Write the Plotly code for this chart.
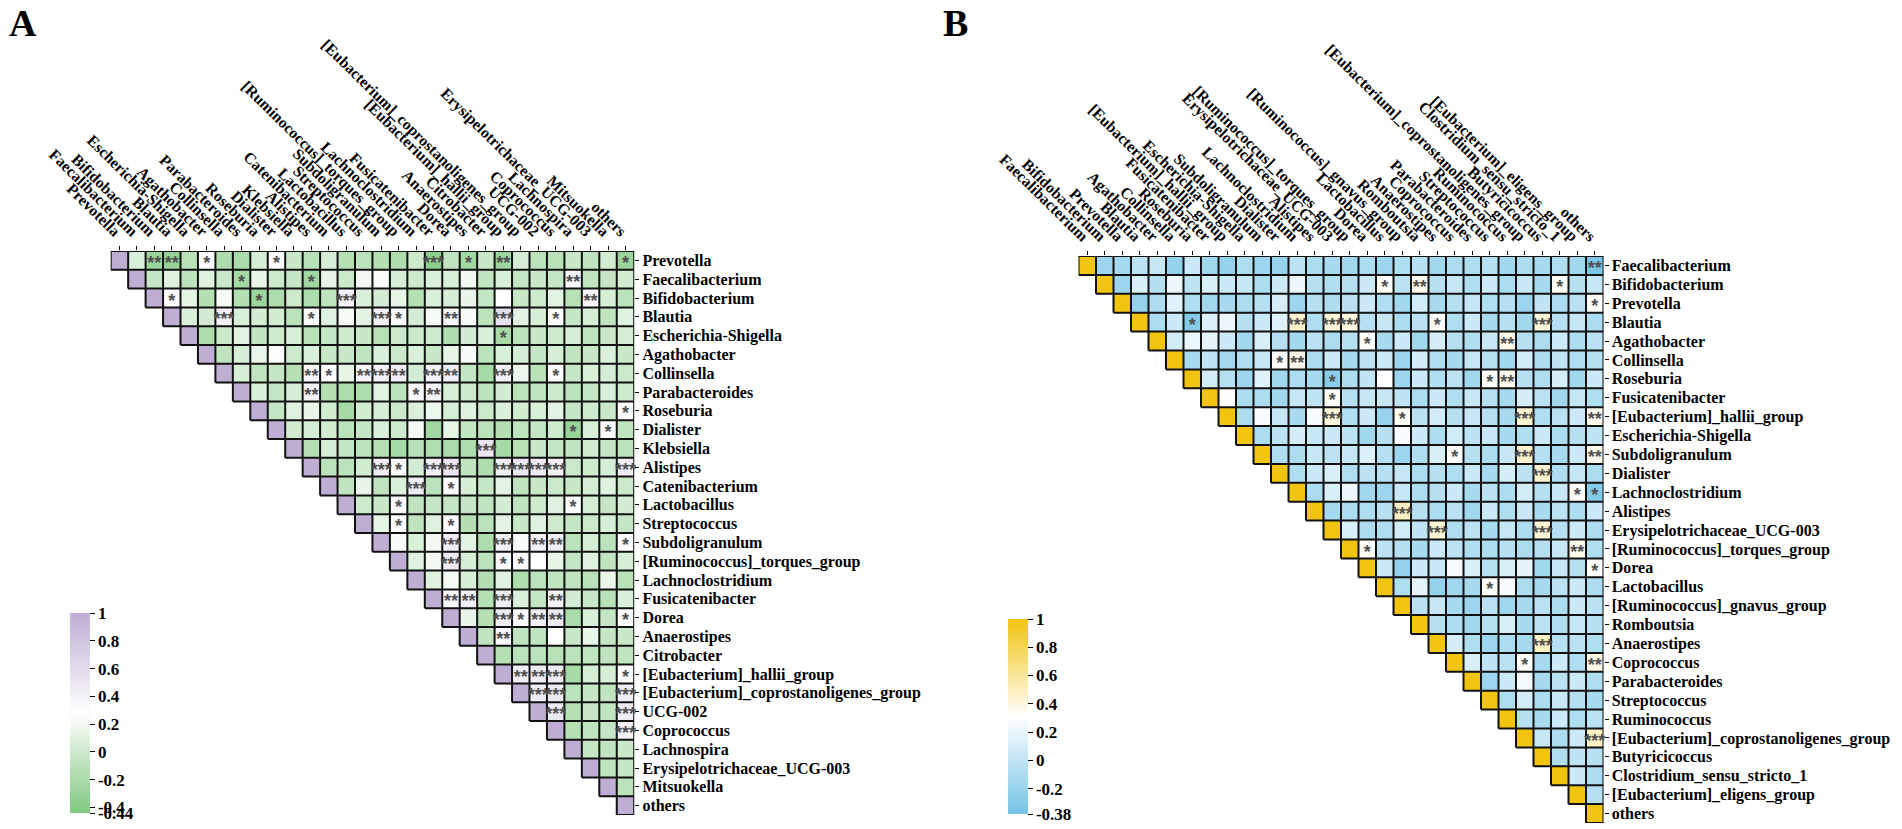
import plotly.graph_objects as go

W, H = 1902, 829
SERIF = "Liberation Serif"

labels_a = ["Prevotella","Faecalibacterium","Bifidobacterium","Blautia","Escherichia-Shigella","Agathobacter",
 "Collinsella","Parabacteroides","Roseburia","Dialister","Klebsiella","Alistipes","Catenibacterium","Lactobacillus",
 "Streptococcus","Subdoligranulum","[Ruminococcus]_torques_group","Lachnoclostridium","Fusicatenibacter","Dorea",
 "Anaerostipes","Citrobacter","[Eubacterium]_hallii_group","[Eubacterium]_coprostanoligenes_group","UCG-002",
 "Coprococcus","Lachnospira","Erysipelotrichaceae_UCG-003","Mitsuokella","others"]

labels_b = ["Faecalibacterium","Bifidobacterium","Prevotella","Blautia","Agathobacter","Collinsella","Roseburia",
 "Fusicatenibacter","[Eubacterium]_hallii_group","Escherichia-Shigella","Subdoligranulum","Dialister",
 "Lachnoclostridium","Alistipes","Erysipelotrichaceae_UCG-003","[Ruminococcus]_torques_group","Dorea","Lactobacillus",
 "[Ruminococcus]_gnavus_group","Romboutsia","Anaerostipes","Coprococcus","Parabacteroides","Streptococcus",
 "Ruminococcus","[Eubacterium]_coprostanoligenes_group","Butyricicoccus","Clostridium_sensu_stricto_1",
 "[Eubacterium]_eligens_group","others"]

# correlation x 100, upper triangle without the diagonal, one list per row
values_a = [
 [8,-28,-30,-12,30,-18,-20,5,30,-3,-12,5,-14,-10,-15,-18,0,-36,-8,-25,-3,-27,4,-10,-12,-3,-8,2,-28],
 [-5,10,-10,10,-2,-22,15,0,-5,-25,14,-2,20,25,5,0,8,6,20,-8,6,-5,-3,-5,34,-8,-5,2],
 [32,14,-15,22,-15,-27,-18,0,-18,-8,40,8,3,14,-14,8,5,15,-5,28,-3,0,12,-12,36,5,-10],
 [8,3,40,6,3,2,-10,32,10,22,12,42,33,3,22,36,24,-10,55,12,5,30,-5,5,-8,10],
 [-18,0,12,-8,0,6,-12,-5,0,-3,-12,-2,-2,0,-18,3,8,-22,-10,-3,0,5,-8,-3,4],
 [-8,5,16,26,0,8,-3,-3,-8,8,-2,8,-3,14,24,-10,6,4,-5,5,-8,-3,8,-3],
 [5,-8,-5,-14,36,32,14,38,40,44,3,40,44,-5,-22,42,18,-12,32,-5,6,3,-2],
 [8,-5,5,38,-15,-18,-18,12,-10,33,38,6,-2,-10,3,-10,-8,-2,-10,-5,6,0],
 [-5,10,15,2,-22,2,5,-2,8,18,4,10,-2,8,2,6,12,-5,0,-3,32],
 [2,5,2,-10,-5,8,0,22,-25,14,-6,-10,-15,-8,-5,0,-30,6,32,-8],
 [-14,5,-5,-10,-14,-22,-12,-16,-20,-18,50,-22,-12,-3,-5,-8,2,-5,-10],
 [-10,-10,2,45,32,3,42,50,-8,-18,44,50,46,42,-2,0,5,44],
 [-8,15,-8,8,46,-10,32,5,-4,12,-8,-3,-2,-3,4,10,-2],
 [0,-3,32,-8,-5,-5,-5,-8,3,-8,0,10,30,4,-4,3],
 [14,32,-8,10,32,-15,-10,12,-3,10,0,-5,-2,5,-5],
 [24,6,20,45,12,-18,42,24,42,44,-10,5,-10,30],
 [10,20,46,5,-10,32,32,28,15,-5,10,-8,5],
 [10,22,5,-15,10,-18,-10,-8,-8,-12,16,-12],
 [34,40,-14,44,8,-5,38,3,-3,-12,8],
 [15,-14,44,32,42,46,-20,6,-5,30],
 [-8,36,-8,-8,26,-3,15,-5,-3],
 [-14,-10,-10,-12,-10,-8,-8,-8],
 [42,44,46,-22,4,5,30],
 [46,48,-10,-5,-8,44],
 [48,-14,-3,-8,44],
 [-14,-8,-5,42],
 [-5,-8,-3],
 [-8,-5],
 [-10],
 [],
]

values_b = [
 [-18,-14,-3,3,-22,5,-15,-22,-8,-18,-20,-2,-10,-12,-15,-10,-18,-8,-5,-15,-10,-8,-5,-15,-10,-12,-8,-15,-35],
 [-18,12,-6,22,-2,12,5,3,-10,5,22,-5,-8,-5,5,33,-3,36,-5,3,-8,5,-10,3,-12,33,-5,2],
 [-22,-10,15,-8,-15,-12,-10,-5,10,-18,-5,-10,-3,5,-8,-15,8,-12,-5,2,-8,-5,-18,0,-10,-3,33],
 [-10,5,-30,14,22,-5,5,15,45,-8,42,40,-5,3,-10,-3,33,-8,5,-12,-5,-15,42,-5,3,-10],
 [8,20,18,5,-15,12,-5,-15,-3,-10,-5,32,-12,5,-15,10,-5,-8,3,37,-5,-10,5,-10,-3],
 [-12,0,-14,-8,3,32,36,-10,5,-12,-3,5,-18,10,-8,-12,2,-5,-15,8,-10,0,-8,-5],
 [8,-5,-18,15,-15,-10,-12,-28,-10,0,30,-18,5,-8,-2,-15,33,36,-5,-8,10,-15,5],
 [32,-10,-10,-15,3,0,33,-5,3,3,0,-10,5,-8,3,-5,-12,10,-3,-15,2,-8],
 [-10,27,3,-12,28,42,-8,5,-20,33,-3,8,-5,3,-5,-12,44,-8,-3,5,36],
 [-10,-3,10,3,5,-3,-15,-5,28,5,-10,8,-3,3,-12,-8,5,-10,-5,0],
 [-8,-10,3,-2,2,14,-5,-18,-8,12,32,-5,-10,3,45,-5,-12,5,36],
 [-8,5,12,-8,-3,-5,3,-10,-5,-8,5,-12,10,-3,45,-8,2,-10],
 [-10,12,22,-15,-18,3,-10,-5,5,-12,-3,-10,8,-5,3,32,-30],
 [-14,-10,-8,-5,48,-5,-10,-3,-15,5,-8,3,-12,-3,-10,5],
 [12,-10,-8,8,0,44,-8,-3,-12,2,-10,43,-5,5,-10],
 [33,-3,-5,-12,5,-2,-8,-10,-5,-10,-5,3,36,-8],
 [5,-22,5,3,28,12,-5,12,18,-15,3,-5,32],
 [-8,18,-22,-15,-12,33,28,-10,-12,-3,5,-10],
 [-3,3,-12,-18,-3,-16,-12,-3,-10,5,-3],
 [-5,-10,-15,-5,12,-12,-3,-8,3,-5],
 [10,-8,-18,-10,-12,48,-5,-3,-8],
 [12,0,-3,33,-14,5,-8,38],
 [-18,5,25,-12,-3,5,-8],
 [-8,8,-10,3,-5,-12],
 [-5,-12,5,-8,-3],
 [3,-10,5,48],
 [-8,0,-5],
 [5,-10],
 [-5],
 [],
]

# significance marks as (row, column, count)
stars_a = [
 (0,2,2),(0,3,2),(0,5,1),(0,9,1),(0,18,3),(0,20,1),(0,22,2),(0,29,1),
 (1,7,1),(1,11,1),(1,26,2),
 (2,3,1),(2,8,1),(2,13,3),(2,27,2),
 (3,6,3),(3,11,1),(3,15,3),(3,16,1),(3,19,2),(3,22,3),(3,25,1),
 (4,22,1),
 (6,11,2),(6,12,1),(6,14,2),(6,15,3),(6,16,2),(6,18,3),(6,19,2),(6,22,3),(6,25,1),
 (7,11,2),(7,17,1),(7,18,2),
 (8,29,1),
 (9,26,1),(9,28,1),
 (10,21,3),
 (11,15,3),(11,16,1),(11,18,3),(11,19,3),(11,22,3),(11,23,3),(11,24,3),(11,25,3),(11,29,3),
 (12,17,3),(12,19,1),
 (13,16,1),(13,26,1),
 (14,16,1),(14,19,1),
 (15,19,3),(15,22,3),(15,24,2),(15,25,2),(15,29,1),
 (16,19,3),(16,22,1),(16,23,1),
 (18,19,2),(18,20,2),(18,22,3),(18,25,2),
 (19,22,3),(19,23,1),(19,24,2),(19,25,2),(19,29,1),
 (20,22,2),
 (22,23,2),(22,24,2),(22,25,3),(22,29,1),
 (23,24,3),(23,25,3),(23,29,3),
 (24,25,3),(24,29,3),
 (25,29,3),
]

stars_b = [
 (0,29,2),
 (1,17,1),(1,19,2),(1,27,1),
 (2,29,1),
 (3,6,1),(3,12,3),(3,14,3),(3,15,3),(3,20,1),(3,26,3),
 (4,16,1),(4,24,2),
 (5,11,1),(5,12,2),
 (6,14,1),(6,23,1),(6,24,2),
 (7,14,1),
 (8,14,3),(8,18,1),(8,25,3),(8,29,2),
 (10,21,1),(10,25,3),(10,29,2),
 (11,26,3),
 (12,28,1),(12,29,1),
 (13,18,3),
 (14,20,3),(14,26,3),
 (15,16,1),(15,28,2),
 (16,29,1),
 (17,23,1),
 (20,26,3),
 (21,25,1),(21,29,2),
 (25,29,3),
]

colors_a = ["#7FC97F", "#FFFFFF", "#BEAED4"]
colors_b = ["#74C4E6", "#FFFFFF", "#F1C40F"]
range_a = (-0.44, 1)
range_b = (-0.38, 1)
bar_ticks_a = [1, 0.8, 0.6, 0.4, 0.2, 0, -0.2, -0.4, -0.44]
bar_ticks_b = [1, 0.8, 0.6, 0.4, 0.2, 0, -0.2, -0.38]


def matrix(rows):
    n = len(rows)
    z = [[None] * n for _ in range(n)]
    for r, row in enumerate(rows):
        assert len(row) == n - 1 - r, (r, len(row))
        z[r][r] = 1
        for k, v in enumerate(row):
            z[r][r + 1 + k] = v / 100
    return z


def grid_lines(n):
    xs, ys = [], []
    for k in range(n + 1):
        xs += [max(k - 1, 0) - 0.5, n - 0.5, None]
        ys += [k - 0.5, k - 0.5, None]
        xs += [k - 0.5, k - 0.5, None]
        ys += [-0.5, min(k, n - 1) + 0.5, None]
    return xs, ys


def fmt(v):
    return f"{v:g}"


fig = go.Figure()


def panel(suffix, labels, rows, stars, colors, zrange, ticks, box, bar):
    n = len(labels)
    idx = list(range(n))
    xa, ya = "x" + suffix, "y" + suffix
    zmin, zmax = zrange
    fig.add_trace(go.Heatmap(
        z=matrix(rows), x=idx, y=idx, xaxis=xa, yaxis=ya, zmin=zmin, zmax=zmax,
        colorscale=[[0, colors[0]], [0.5, colors[1]], [1, colors[2]]], hoverongaps=False,
        colorbar=dict(
            x=bar[0] / W, xanchor="left", y=1 - bar[1] / H, yanchor="top",
            lenmode="pixels", len=bar[2], thicknessmode="pixels", thickness=bar[3],
            xpad=0, ypad=0, outlinewidth=0, tickmode="array", tickvals=ticks,
            ticktext=[fmt(t) for t in ticks], ticks="outside", ticklen=5, tickwidth=1,
            tickcolor="black", tickfont=dict(family=SERIF, size=17, color="black", weight=700),
        ),
    ))
    gx, gy = grid_lines(n)
    fig.add_trace(go.Scatter(x=gx, y=gy, mode="lines", xaxis=xa, yaxis=ya, cliponaxis=False,
                             line=dict(color="#111111", width=2), hoverinfo="skip", showlegend=False))
    fig.add_trace(go.Scatter(
        x=[s[1] for s in stars], y=[s[0] + 0.22 for s in stars], text=["*" * s[2] for s in stars],
        mode="text", textposition="middle center", xaxis=xa, yaxis=ya, cliponaxis=False,
        textfont=dict(family="Liberation Sans", size=18, color="#505050", weight=700),
        hoverinfo="skip", showlegend=False))
    left, top, cw, ch = box
    axis_common = dict(
        tickmode="array", tickvals=idx, ticktext=labels, ticks="outside", ticklen=4, tickwidth=1,
        tickcolor="black", showgrid=False, zeroline=False, showline=False,
    )
    key = suffix
    fig.update_layout({
        "xaxis" + key: dict(domain=[left / W, (left + n * cw) / W], range=[-0.5, n - 0.5], side="top",
                            tickangle=44.5, anchor=ya,
                            tickfont=dict(family=SERIF, size=15.7, color="black", weight=700), **axis_common),
        "yaxis" + key: dict(domain=[1 - (top + n * ch) / H, 1 - top / H], range=[n - 0.5, -0.5], side="right",
                            anchor=xa,
                            tickfont=dict(family=SERIF, size=16, color="black", weight=700), **axis_common),
    })


panel("", labels_a, values_a, stars_a, colors_a, range_a, bar_ticks_a, (110.7, 251, 17.45, 18.8), (70, 613, 200, 20))
panel("2", labels_b, values_b, stars_b, colors_b, range_b, bar_ticks_b, (1078.5, 256, 17.5, 18.9), (1008, 619, 195, 20))

panel_letters = ["A", "B"]
panel_letter_x = [7, 941]
fig.update_layout(
    width=W, height=H, margin=dict(l=0, r=0, t=0, b=0, autoexpand=False), paper_bgcolor="white", plot_bgcolor="white",
    showlegend=False,
    annotations=[dict(text=t, x=x / W, y=1 - 0 / H, xref="paper", yref="paper", xanchor="left", yanchor="top",
                      showarrow=False, font=dict(family=SERIF, size=38, color="black", weight=700))
                 for t, x in zip(panel_letters, panel_letter_x)],
)

fig.write_html("out.html", config={"displayModeBar": False}, post_script="document.body.style.margin='0';")
